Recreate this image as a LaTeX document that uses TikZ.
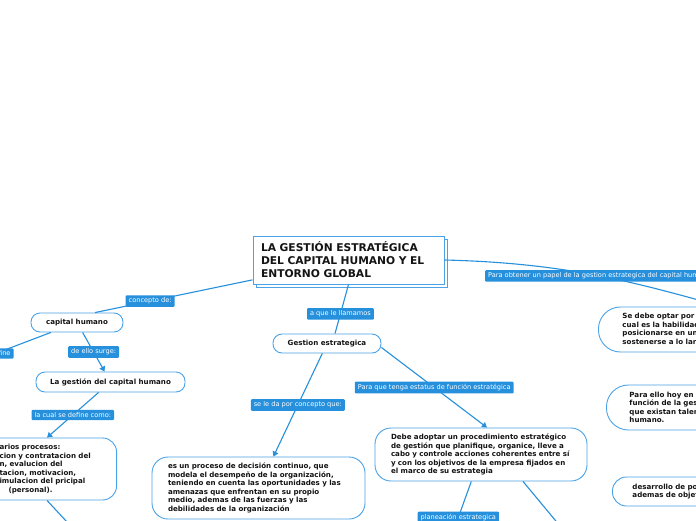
\documentclass[tikz,border=0pt]{standalone}
\usepackage{fontspec}
\setmainfont{DejaVu Sans}
\usepackage{xcolor}
\definecolor{Link}{HTML}{2690DD}
\definecolor{Edge}{HTML}{4AA3E8}
\definecolor{Ink}{HTML}{141414}
\usepackage{tikz}
\usetikzlibrary{arrows.meta,positioning,shadows}

\begin{document}
\begin{tikzpicture}[
  x=1pt,y=-1pt,
  every node/.style={font=\bfseries\fontsize{7.1}{8.5}\selectfont,text=Ink,align=left},
  title/.style={draw=Edge,line width=1pt,fill=white,inner xsep=8pt,text width=175pt,
    minimum height=48pt,font=\bfseries\fontsize{10.7}{13}\selectfont,
    copy shadow={shadow xshift=3pt,shadow yshift=-3pt}},
  topic/.style={draw=Edge,line width=0.9pt,fill=white,rounded corners=9pt,
    minimum height=19pt,align=center},
  box/.style={draw=Edge,line width=0.9pt,fill=white,rounded corners=16pt,
    inner xsep=16pt,text width=181pt},
  tag/.style={fill=Link,text=white,rounded corners=1pt,inner xsep=3pt,inner ysep=2.6pt,
    font=\fontsize{6.6}{7.5}\selectfont},
  link/.style={draw=Link,line width=1.1pt},
  arrow/.style={link,-{Triangle[length=5pt,width=6pt]}}
]
\useasboundingbox (0,0) rectangle (696,520);
\fill[white] (0,0) rectangle (696,520);
\clip (0,0) rectangle (696,520);

% central topic
\node[title] (title) at (348.5,260) {LA GESTIÓN ESTRATÉGICA\\DEL CAPITAL HUMANO Y EL\\ENTORNO GLOBAL};

% left branch
\node[topic,minimum width=92pt] (capital) at (77,322.5) {capital humano};
\node[topic,minimum width=149pt,minimum height=20pt] (gcap) at (110.5,382) {La gestión del capital humano};
\node[box,rounded corners=14pt,minimum height=62pt,text width=95pt,inner xsep=22pt,anchor=east] (procesos) at (117,469)
  {arios procesos:\\cion y contratacion del\\n, evalucion del\\tacion, motivacion,\\imulacion del pricipal\\\hspace*{9pt}(personal).};

% middle branch
\node[box,minimum height=62pt] (esun) at (258.5,488)
  {es un proceso de decisión continuo, que\\modela el desempeño de la organización,\\teniendo en cuenta las oportunidades y las\\amenazas que enfrentan en su propio\\medio, ademas de las fuerzas y las\\debilidades de la organización};
\node[topic,minimum width=108pt] (gest) at (327,343.5) {Gestion estrategica};
\node[box,minimum height=53pt,text width=180pt] (debe) at (481,454.5)
  {Debe adoptar un procedimiento estratégico\\de gestión que planifique, organice, lleve a\\cabo y controle acciones coherentes entre sí\\y con los objetivos de la empresa fijados en\\el marco de su estrategia};

% right branch
\node[box,rounded corners=22pt,minimum height=45pt,text width=200pt,inner xsep=24pt,anchor=west] (hab) at (598,329.5)
  {Se debe optar por f\\cual es la habilidad\\posicionarse en un\\sostenerse a lo larg};
\node[box,rounded corners=22pt,minimum height=45pt,text width=200pt,inner xsep=23pt,anchor=west] (ello) at (606,407.5)
  {Para ello hoy en\\función de la ges\\que existan talen\\humano.};
\node[box,rounded corners=14pt,minimum height=29pt,text width=200pt,inner xsep=20pt,anchor=west] (desa) at (612,491.5)
  {desarrollo de po\\ademas de objet};

% ends of branches outside the view
\coordinate (offL) at (-60,374.6);
\coordinate (offB) at (80,536);
\coordinate (offP) at (443,560);
\coordinate (offQ) at (570,538);

% connectors
\draw[link] (title) -- node[tag,pos=.65]{concepto de:} ([xshift=18pt]capital.north);
\draw[link] (capital) -- node[tag]{se define} (offL);
\draw[arrow] (capital) -- node[tag]{de ello surge:} (gcap);
\draw[arrow] (gcap) -- node[tag]{la cual se define como:} (procesos.north);
\draw[link] (procesos.south) -- (offB);
\draw[link] (title.south) -- node[tag,pos=.6]{a que le llamamos} ([xshift=8pt]gest.north);
\draw[arrow] (gest) -- node[tag]{se le da por concepto que:} (esun);
\draw[arrow] ([yshift=-4pt]gest.east) -- node[tag]{Para que tenga estatus de función estratégica} ([xshift=6pt]debe.north);
\draw[link] (debe) -- node[tag,pos=.46]{planeación estrategica} (offP);
\draw[link] ([xshift=42pt]debe.south) -- (offQ);
\draw[link] (title.east) .. controls (570,263) and (640,284) .. node[tag,pos=.5]{Para obtener un papel de la gestion estrategica del capital humano} (hab.north);
\end{tikzpicture}
\end{document}
